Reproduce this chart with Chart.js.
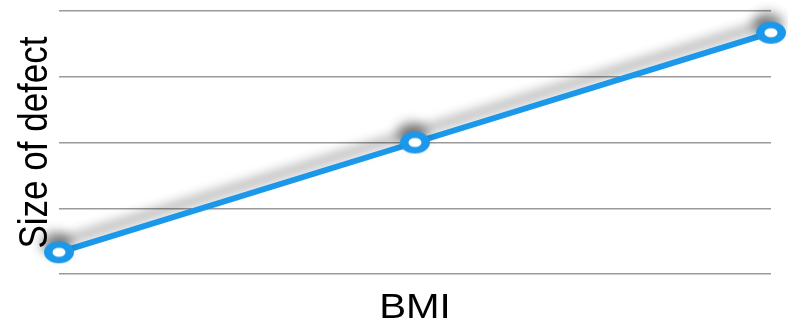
<!DOCTYPE html>
<html>
<head>
<meta charset="utf-8">
<script src="https://cdn.jsdelivr.net/npm/chart.js@4"></script>
<style>
  html, body { margin: 0; padding: 0; background: #fff; }
  #wrap { width: 788px; height: 325px; }
</style>
</head>
<body>
<div id="wrap"><canvas id="chart"></canvas></div>
<script>
var categories = ['Low', 'Medium', 'High'];
var defectSize = [0.33, 2, 3.67];
var yTicks = [0, 1, 2, 3, 4];
var xTitle = 'BMI';
var yTitle = 'Size of defect';

var blue = '#1b98ea';

// oval ring marker (the original markers are a bit stretched)
var marker = document.createElement('canvas');
marker.width = 32;
marker.height = 24;
(function() {
    var m = marker.getContext('2d');
    m.fillStyle = blue;
    m.beginPath();
    m.ellipse(16, 12, 15, 11, 0, 0, Math.PI * 2);
    m.fill();
    m.fillStyle = '#fff';
    m.beginPath();
    m.ellipse(16, 12, 6.5, 4.5, 0, 0, Math.PI * 2);
    m.fill();
})();

// shadow under the line
var lineShadow = {
    id: 'lineShadow',
    beforeDatasetsDraw: function(chart) {
        var ctx = chart.ctx;
        ctx.save();
        ctx.shadowColor = 'rgba(0, 0, 0, 0.45)';
        ctx.shadowBlur = 12;
        ctx.shadowOffsetX = -3;
        ctx.shadowOffsetY = -9;
    },
    afterDatasetsDraw: function(chart) {
        chart.ctx.restore();
    }
};

// axis titles, a bit wide like in the original
var axisTitles = {
    id: 'axisTitles',
    afterDraw: function(chart) {
        var ctx = chart.ctx;
        var area = chart.chartArea;
        ctx.save();
        ctx.fillStyle = '#000';
        ctx.font = '35px "Liberation Sans", Arial, sans-serif';
        ctx.textAlign = 'center';
        ctx.textBaseline = 'alphabetic';

        ctx.save();
        ctx.translate((area.left + area.right) / 2, 318);
        ctx.scale(1.15, 1);
        ctx.fillText(xTitle, 0, 0);
        ctx.restore();

        ctx.save();
        ctx.translate(47, (area.top + area.bottom) / 2);
        ctx.rotate(-Math.PI / 2);
        ctx.scale(1, 1.15);
        ctx.fillText(yTitle, 0, 0);
        ctx.restore();

        ctx.restore();
    }
};

new Chart(document.getElementById('chart'), {
    type: 'line',
    data: {
        labels: categories,
        datasets: [{
            data: defectSize,
            borderColor: blue,
            borderWidth: 6,
            pointStyle: marker,
            pointRadius: 12,
            clip: false,
            tension: 0
        }]
    },
    options: {
        responsive: true,
        maintainAspectRatio: false,
        animation: false,
        layout: {
            autoPadding: false,
            padding: { top: 11, right: 17, left: 59, bottom: 43 }
        },
        plugins: {
            legend: { display: false },
            tooltip: { enabled: false }
        },
        scales: {
            x: {
                offset: false,
                grid: { display: false },
                border: { display: false },
                ticks: { display: false }
            },
            y: {
                min: yTicks[0],
                max: yTicks[yTicks.length - 1],
                afterBuildTicks: function(axis) {
                    axis.ticks = yTicks.map(function(v) { return { value: v }; });
                },
                grid: { color: '#9a9a9a', lineWidth: 1.5, drawTicks: false },
                border: { display: false },
                ticks: { display: false }
            }
        }
    },
    plugins: [lineShadow, axisTitles]
});
</script>
</body>
</html>
